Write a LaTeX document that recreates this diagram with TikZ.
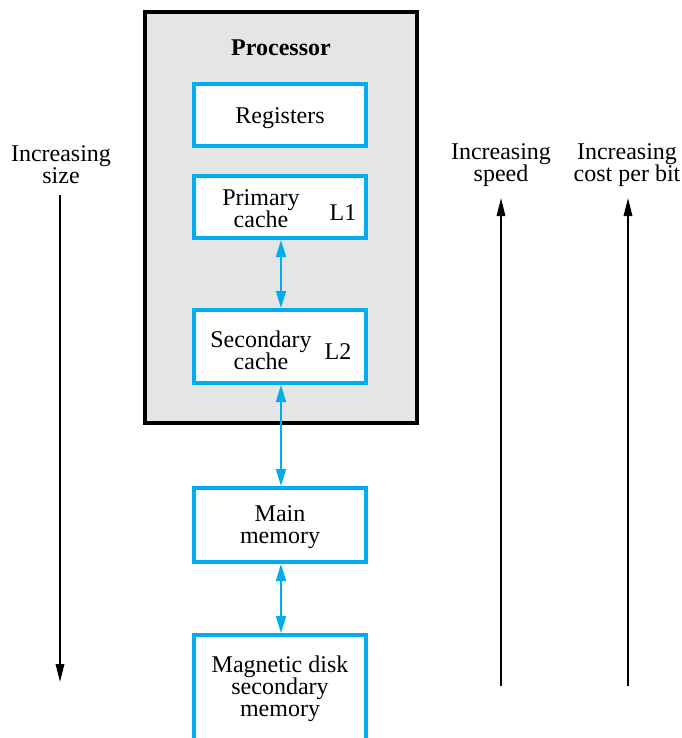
\documentclass[tikz,border=0pt]{standalone}
\usepackage{fontspec}
\setmainfont{Liberation Serif}
\usetikzlibrary{arrows.meta}
\definecolor{cblue}{HTML}{00AEEF}
\definecolor{pgray}{HTML}{E5E5E5}
\begin{document}
\begin{tikzpicture}[x=0.5pt,y=-0.5pt,
  lbl/.style={font=\fontsize{12}{11}\selectfont,align=center,inner sep=0pt},
  membox/.style={draw=cblue,line width=2pt,fill=white},
  barrow/.style={cblue,line width=0.9pt,{Triangle[length=8.5pt,width=5pt]}-{Triangle[length=8.5pt,width=5pt]}},
  karrow/.style={black,line width=0.9pt,-{Triangle[length=9pt,width=4.2pt]}}]
\useasboundingbox (0,0) rectangle (681,738);
\clip (0,0) rectangle (681,738);
% processor
\node[draw=black,line width=2pt,fill=pgray,minimum width=136pt,minimum height=205.5pt,inner sep=0pt] (proc) at (281,217.5) {};
\node[lbl,font=\fontsize{12}{11}\selectfont\bfseries] (ptitle) at (281,48) {Processor};
% boxes
\node[membox,minimum width=86pt,minimum height=31pt,inner sep=0pt] (reg) at (280,115) {};
\node[lbl] (regt) at (280,118) {Registers};
\node[membox,minimum width=86pt,minimum height=31pt,inner sep=0pt] (l1) at (280,207) {};
\node[lbl] (l1t) at (261,209) {Primary\\cache};
\node[lbl] (l1n) at (343,213) {L1};
\node[membox,minimum width=86pt,minimum height=36.5pt,inner sep=0pt] (l2) at (280,346.5) {};
\node[lbl] (l2t) at (261,350) {Secondary\\cache};
\node[lbl] (l2n) at (338,352) {L2};
\node[membox,minimum width=86pt,minimum height=37pt,inner sep=0pt] (mm) at (280,525) {};
\node[lbl] (mmt) at (280,527) {Main\\memory};
\node[membox,minimum width=86pt,minimum height=70pt,inner sep=0pt] (disk) at (280,705) {};
\node[lbl] (diskt) at (280,689) {Magnetic disk\\secondary\\memory};
% blue arrows
\draw[barrow] (l1.south -| 281,0) -- (l2.north -| 281,0);
\draw[barrow] (l2.south -| 281,0) -- (mm.north -| 281,0);
\draw[barrow] (mm.south -| 281,0) -- (disk.north -| 281,0);
% side labels and arrows
\node[lbl] (size) at (61,165) {Increasing\\size};
\coordinate (sizeend) at (60,682);
\draw[karrow] (60,195) -- (sizeend);
\node[lbl] (speed) at (501,165) {Increasing\\speed};
\coordinate (speedstart) at (501,686);
\draw[karrow] (speedstart) -- (501,198);
\node[lbl] (cost) at (627,165) {Increasing\\cost per bit};
\coordinate (coststart) at (628,686);
\draw[karrow] (coststart) -- (628,198);
\end{tikzpicture}
\end{document}
